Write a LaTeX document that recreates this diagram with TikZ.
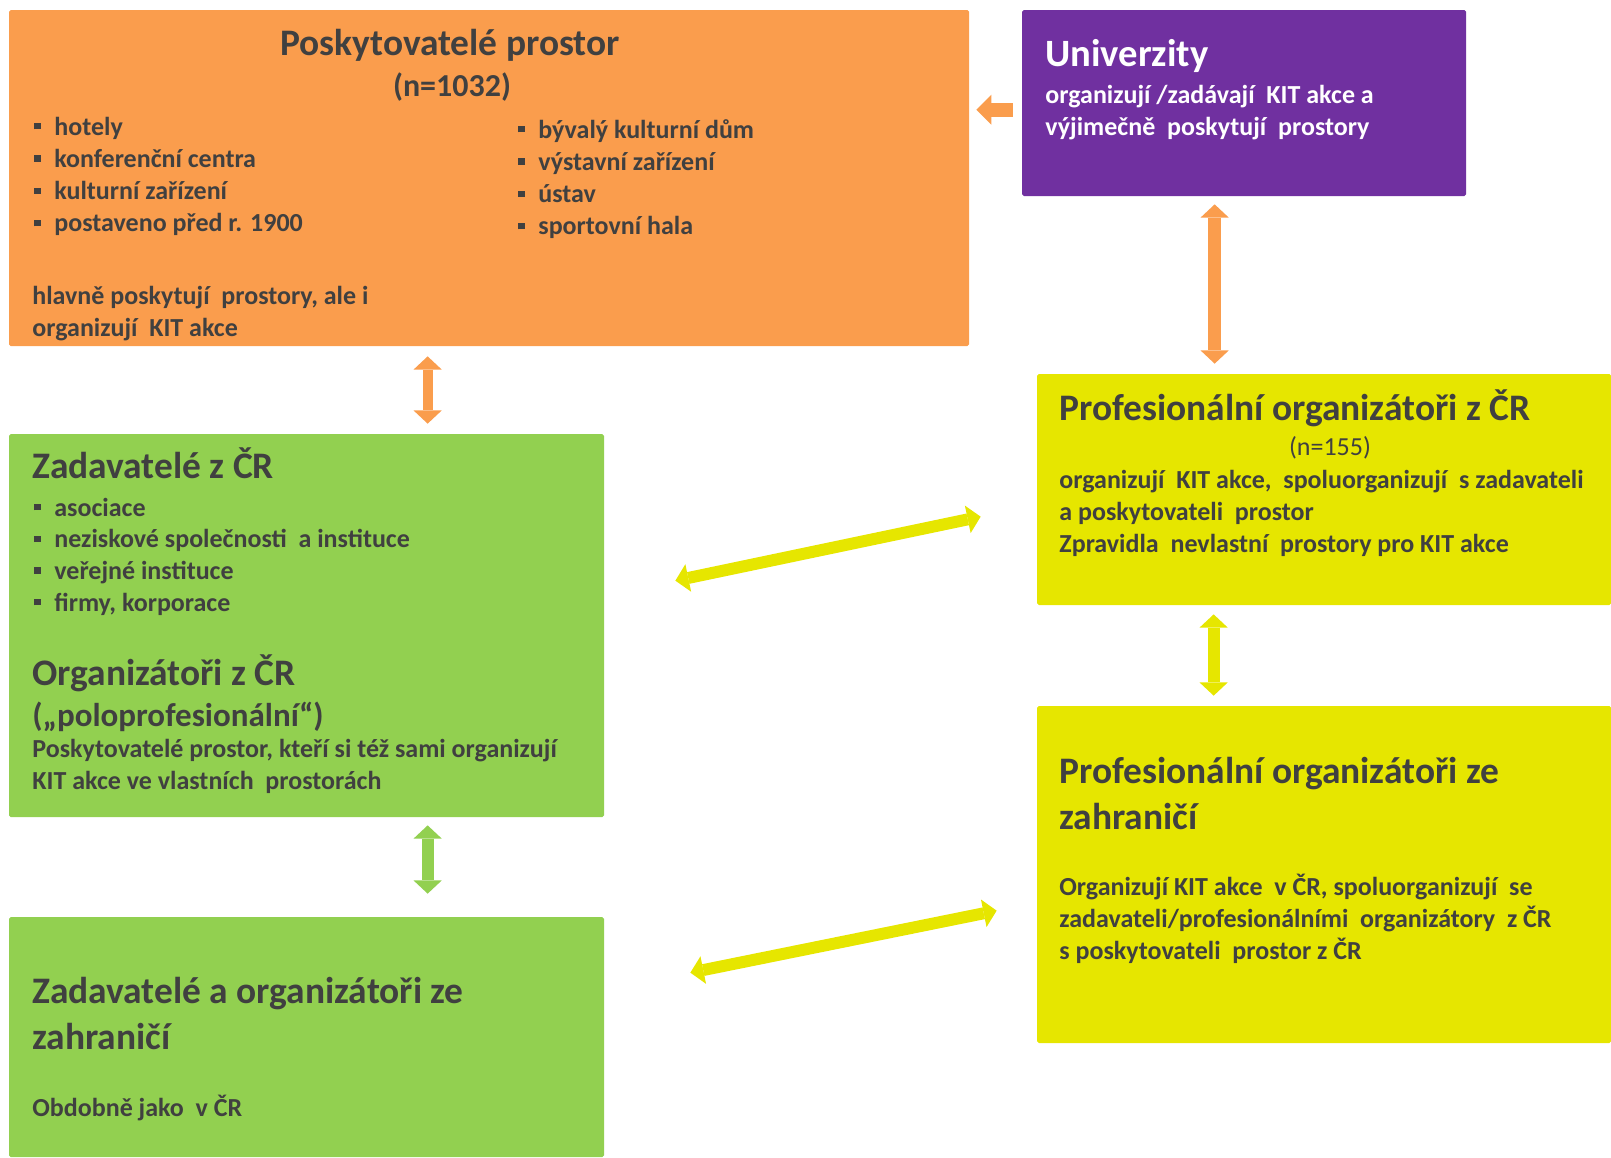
\documentclass[tikz,border=0pt]{standalone}
\usepackage{fontspec}
\setmainfont{Carlito}
\usetikzlibrary{arrows.meta,calc,fit}

\definecolor{provorange}{RGB}{250,157,77}
\definecolor{unipurple}{RGB}{112,48,160}
\definecolor{zadgreen}{RGB}{146,208,80}
\definecolor{profyellow}{RGB}{230,230,0}
\definecolor{txtgray}{RGB}{64,64,64}

\newcommand{\sqbul}{\makebox[11.4pt][l]{\rule[3.2pt]{3.6pt}{3.6pt}}}

\tikzset{
  area/.style={inner sep=0pt, rounded corners=1pt},
  hd/.style={anchor=base west, inner sep=0pt, text=txtgray, font=\fontsize{21.3}{26}\selectfont\bfseries},
  bd/.style={anchor=base west, inner sep=0pt, text=txtgray, font=\fontsize{14.8}{18}\selectfont\bfseries},
  blockarr/.style={line width=#1, arrows={Triangle[width=16pt,length=7.5pt,line width=0pt]-Triangle[width=16pt,length=7.5pt,line width=0pt]}},
  onearr/.style={line width=#1, arrows={-Triangle[width=17pt,length=8.5pt,line width=0pt]}},
}

\begin{document}
\begin{tikzpicture}[x=0.02cm,y=-0.02cm]
  \useasboundingbox (0,0) rectangle (1611,1157);

  % Boxes
  \node[area, fill=provorange, fit={(9,10) (969,346)}] (prov) {};
  \node[area, fill=unipurple, fit={(1022,10) (1466,196)}] (univ) {};
  \node[area, fill=profyellow, fit={(1037,374) (1611,605)}] (prof) {};
  \node[area, fill=profyellow, fit={(1037,706) (1611,1043)}] (zahr) {};
  \node[area, fill=zadgreen, fit={(9,434) (604,817)}] (zad) {};
  \node[area, fill=zadgreen, fit={(9,917) (604,1157)}] (zzah) {};

  % Poskytovatele prostor
  \node[hd, anchor=base] (provT) at (450,55) {Poskytovatelé prostor};
  \node[hd, anchor=base, font=\fontsize{18.2}{22}\selectfont\bfseries] (provN) at (452,96) {(n=1032)};
  \foreach \t [count=\i from 0] in {hotely, konferenční centra, kulturní zařízení, postaveno před r. 1900}
    \node[bd] (pl\i) at (34,{135+32.3*\i}) {\sqbul\t};
  \foreach \t [count=\i from 0] in {bývalý kulturní dům, výstavní zařízení, ústav, sportovní hala}
    \node[bd] (pr\i) at (518,{138+32.3*\i}) {\sqbul\t};
  \node[bd] (provB1) at (32,304) {hlavně poskytují \ prostory, ale i};
  \node[bd] (provB2) at (32,336) {organizují \ KIT akce};

  % Univerzity
  \node[hd, text=white, font=\fontsize{22}{26}\selectfont\bfseries] (univT) at (1045,66) {Univerzity};
  \node[bd, text=white] (univB1) at (1045,103) {organizují /zadávají \ KIT akce a};
  \node[bd, text=white] (univB2) at (1045,135) {výjimečně \ poskytují \ prostory};

  % Profesionalni organizatori z CR
  \node[hd] (profT) at (1059,420) {Profesionální organizátoři z ČR};
  \node[bd, anchor=base, font=\fontsize{14.8}{18}\selectfont] (profN) at (1330,455) {(n=155)};
  \node[bd] (profB1) at (1059,488) {organizují \ KIT akce, \ spoluorganizují \ s zadavateli};
  \node[bd] (profB2) at (1059,520) {a poskytovateli \ prostor};
  \node[bd] (profB3) at (1059,552) {Zpravidla \ nevlastní \ prostory pro KIT akce};

  % Zadavatele z CR
  \node[hd] (zadT) at (32,478) {Zadavatelé z ČR};
  \foreach \t [count=\i from 0] in {asociace, neziskové společnosti \ a instituce, veřejné instituce, {firmy, korporace}}
    \node[bd] (zl\i) at (34,{516+31.7*\i}) {\sqbul\t};
  \node[hd] (orgT1) at (32,685) {Organizátoři z ČR};
  \node[hd, font=\fontsize{18.8}{22}\selectfont\bfseries] (orgT2) at (32,726) {(„poloprofesionální“)};
  \node[bd] (orgB1) at (32,757) {Poskytovatelé prostor, kteří si též sami organizují};
  \node[bd] (orgB2) at (32,789) {KIT akce ve vlastních \ prostorách};

  % Profesionalni organizatori ze zahranici
  \node[hd] (zahrT1) at (1059,783) {Profesionální organizátoři ze};
  \node[hd] (zahrT2) at (1059,829) {zahraničí};
  \node[bd] (zahrB1) at (1059,895) {Organizují KIT akce \ v ČR, spoluorganizují \ se};
  \node[bd] (zahrB2) at (1059,927) {zadavateli/profesionálními \ organizátory \ z ČR};
  \node[bd] (zahrB3) at (1059,959) {s poskytovateli \ prostor z ČR};

  % Zadavatele a organizatori ze zahranici
  \node[hd] (zzahT1) at (32,1003) {Zadavatelé a organizátoři ze};
  \node[hd] (zzahT2) at (32,1049) {zahraničí};
  \node[bd] (zzahB) at (32,1116) {Obdobně jako \ v ČR};

  % Arrows
  \draw[blockarr=5.7pt, provorange, shorten <=0.2cm, shorten >=0.2cm]
    ($(prov.south west)+(419,0)$) -- ($(zad.north west)+(419,0)$);
  \draw[onearr=8pt, provorange, shorten <=0.18cm, shorten >=0.14cm]
    ($(univ.north west)+(0,100)$) -- ($(prov.north east)+(0,100)$);
  \draw[blockarr=7.4pt, provorange, shorten <=0.16cm, shorten >=0.2cm]
    ($(univ.south west)+(193,0)$) -- ($(prof.north west)+(178,0)$);
  \draw[blockarr=6.8pt, profyellow, shorten <=0.18cm, shorten >=0.2cm]
    ($(prof.south west)+(177,0)$) -- ($(zahr.north west)+(177,0)$);
  \draw[blockarr=6.8pt, zadgreen, shorten <=0.16cm, shorten >=0.46cm]
    ($(zad.south west)+(419,0)$) -- ($(zzah.north west)+(419,0)$);
  \draw[blockarr=6.8pt, profyellow]
    ($(zad.north east)+(71,147)$) -- ($(prof.north west)+(-56,143)$);
  \draw[blockarr=6.8pt, profyellow]
    ($(zzah.north east)+(86,56)$) -- ($(zahr.north west)+(-40,205)$);
\end{tikzpicture}
\end{document}
